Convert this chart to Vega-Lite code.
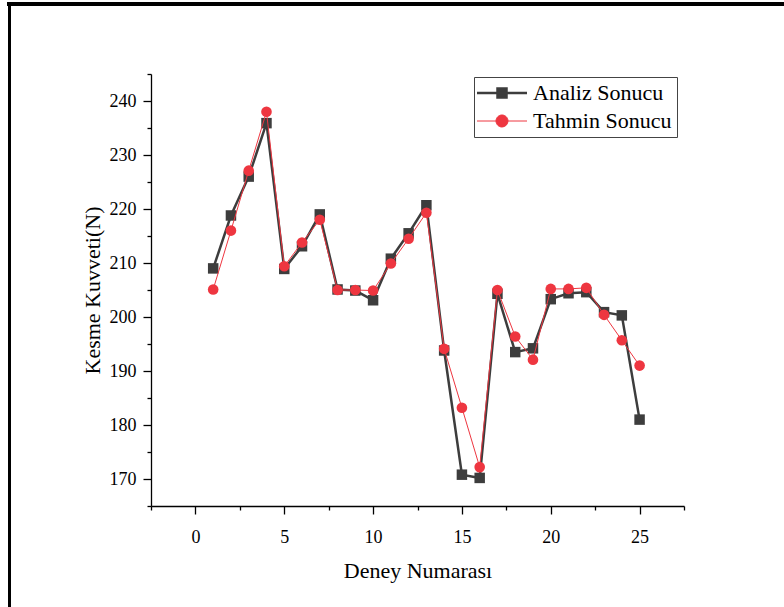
{
  "$schema": "https://vega.github.io/schema/vega-lite/v6.json",
  "autosize": "none",
  "width": 533,
  "height": 432,
  "padding": {"left": 151, "top": 74, "right": 100, "bottom": 101},
  "background": "white",
  "config": {
    "view": {"stroke": null},
    "axis": {
      "grid": false,
      "domainColor": "black",
      "domainWidth": 1.3,
      "tickColor": "black",
      "tickWidth": 1.3,
      "labelFont": "Liberation Serif",
      "labelFontSize": 18,
      "labelColor": "black",
      "titleFont": "Liberation Serif",
      "titleFontSize": 22,
      "titleFontWeight": "normal",
      "titleColor": "black"
    },
    "legend": {
      "labelFont": "Liberation Serif",
      "labelFontSize": 22,
      "labelColor": "black"
    }
  },
  "data": {
    "values": [
      {"x": 1, "s": "Analiz Sonucu", "v": 209.0},
      {"x": 2, "s": "Analiz Sonucu", "v": 218.8},
      {"x": 3, "s": "Analiz Sonucu", "v": 226.0},
      {"x": 4, "s": "Analiz Sonucu", "v": 235.9},
      {"x": 5, "s": "Analiz Sonucu", "v": 208.9},
      {"x": 6, "s": "Analiz Sonucu", "v": 213.1},
      {"x": 7, "s": "Analiz Sonucu", "v": 219.0},
      {"x": 8, "s": "Analiz Sonucu", "v": 205.1},
      {"x": 9, "s": "Analiz Sonucu", "v": 204.9},
      {"x": 10, "s": "Analiz Sonucu", "v": 203.1},
      {"x": 11, "s": "Analiz Sonucu", "v": 210.8},
      {"x": 12, "s": "Analiz Sonucu", "v": 215.5},
      {"x": 13, "s": "Analiz Sonucu", "v": 220.7},
      {"x": 14, "s": "Analiz Sonucu", "v": 193.8},
      {"x": 15, "s": "Analiz Sonucu", "v": 170.8},
      {"x": 16, "s": "Analiz Sonucu", "v": 170.2},
      {"x": 17, "s": "Analiz Sonucu", "v": 204.3},
      {"x": 18, "s": "Analiz Sonucu", "v": 193.5},
      {"x": 19, "s": "Analiz Sonucu", "v": 194.2},
      {"x": 20, "s": "Analiz Sonucu", "v": 203.3},
      {"x": 21, "s": "Analiz Sonucu", "v": 204.4},
      {"x": 22, "s": "Analiz Sonucu", "v": 204.6},
      {"x": 23, "s": "Analiz Sonucu", "v": 200.9},
      {"x": 24, "s": "Analiz Sonucu", "v": 200.3},
      {"x": 25, "s": "Analiz Sonucu", "v": 181.0},
      {"x": 1, "s": "Tahmin Sonucu", "v": 205.1},
      {"x": 2, "s": "Tahmin Sonucu", "v": 216.0},
      {"x": 3, "s": "Tahmin Sonucu", "v": 227.1},
      {"x": 4, "s": "Tahmin Sonucu", "v": 238.0},
      {"x": 5, "s": "Tahmin Sonucu", "v": 209.4},
      {"x": 6, "s": "Tahmin Sonucu", "v": 213.8},
      {"x": 7, "s": "Tahmin Sonucu", "v": 218.0},
      {"x": 8, "s": "Tahmin Sonucu", "v": 205.0},
      {"x": 9, "s": "Tahmin Sonucu", "v": 205.0},
      {"x": 10, "s": "Tahmin Sonucu", "v": 204.9},
      {"x": 11, "s": "Tahmin Sonucu", "v": 209.9},
      {"x": 12, "s": "Tahmin Sonucu", "v": 214.5},
      {"x": 13, "s": "Tahmin Sonucu", "v": 219.3},
      {"x": 14, "s": "Tahmin Sonucu", "v": 194.1},
      {"x": 15, "s": "Tahmin Sonucu", "v": 183.2},
      {"x": 16, "s": "Tahmin Sonucu", "v": 172.2},
      {"x": 17, "s": "Tahmin Sonucu", "v": 205.0},
      {"x": 18, "s": "Tahmin Sonucu", "v": 196.4},
      {"x": 19, "s": "Tahmin Sonucu", "v": 192.1},
      {"x": 20, "s": "Tahmin Sonucu", "v": 205.2},
      {"x": 21, "s": "Tahmin Sonucu", "v": 205.2},
      {"x": 22, "s": "Tahmin Sonucu", "v": 205.4},
      {"x": 23, "s": "Tahmin Sonucu", "v": 200.4},
      {"x": 24, "s": "Tahmin Sonucu", "v": 195.7},
      {"x": 25, "s": "Tahmin Sonucu", "v": 191.0}
    ]
  },
  "encoding": {
    "x": {
      "field": "x", "type": "quantitative",
      "scale": {"domain": [-2.5, 27.5], "nice": false, "zero": false},
      "axis": {
        "title": "Deney Numarası",
        "values": [-2.5, 0, 2.5, 5, 7.5, 10, 12.5, 15, 17.5, 20, 22.5, 25, 27.5],
        "labelExpr": "datum.value % 5 === 0 ? datum.label : ''",
        "tickSize": {"condition": {"test": "datum.value % 5 === 0", "value": 8}, "value": 4},
        "labelPadding": 14,
        "titlePadding": 14
      }
    },
    "y": {
      "field": "v", "type": "quantitative",
      "scale": {"domain": [165, 245], "nice": false, "zero": false},
      "axis": {
        "title": "Kesme Kuvveti(N)",
        "values": [165, 170, 175, 180, 185, 190, 195, 200, 205, 210, 215, 220, 225, 230, 235, 240, 245],
        "labelExpr": "datum.value % 10 === 0 ? datum.label : ''",
        "tickSize": {"condition": {"test": "datum.value % 10 === 0", "value": 8}, "value": 4},
        "labelPadding": 7,
        "titlePadding": 5
      }
    },
    "color": {
      "field": "s", "type": "nominal",
      "scale": {"domain": ["Analiz Sonucu", "Tahmin Sonucu"], "range": ["#3d3d3d", "#ee3640"]},
      "legend": {
        "title": null,
        "orient": "none",
        "legendX": 323,
        "legendY": 3,
        "padding": 5,
        "rowPadding": 6,
        "symbolSize": 400,
        "symbolOffset": 12,
        "labelOffset": 20,
        "strokeColor": "#444444",
        "fillColor": "white",
        "encode": {
          "symbols": {
            "update": {
              "shape": {"signal": "datum.value === 'Analiz Sonucu' ? 'M-2.5,0H2.5M-0.45,-0.45H0.45V0.45H-0.45Z' : 'M-2.5,0H2.5M0.6,0A0.6,0.6 0 1 1 -0.6,0A0.6,0.6 0 1 1 0.6,0Z'"},
              "fill": {"signal": "datum.value === 'Analiz Sonucu' ? '#3d3d3d' : '#ee3640'"},
              "stroke": {"signal": "datum.value === 'Analiz Sonucu' ? '#3d3d3d' : '#ee3640'"},
              "strokeWidth": {"signal": "datum.value === 'Analiz Sonucu' ? 2.5 : 1"},
              "opacity": {"value": 1}
            }
          }
        }
      }
    }
  },
  "layer": [
    {
      "transform": [{"filter": "datum.s === 'Analiz Sonucu'"}],
      "mark": {"type": "line", "strokeWidth": 2.5}
    },
    {
      "transform": [{"filter": "datum.s === 'Analiz Sonucu'"}],
      "mark": {"type": "point", "shape": "square", "filled": true, "size": 110, "opacity": 1}
    },
    {
      "transform": [{"filter": "datum.s === 'Tahmin Sonucu'"}],
      "mark": {"type": "line", "strokeWidth": 1}
    },
    {
      "transform": [{"filter": "datum.s === 'Tahmin Sonucu'"}],
      "mark": {"type": "point", "shape": "circle", "filled": true, "size": 113, "opacity": 1}
    },
    {
      "mark": {"type": "rule", "color": "black", "strokeWidth": 2.5},
      "encoding": {
        "x": {"datum": -10.46},
        "y": {"datum": 258},
        "y2": {"datum": 140},
        "color": null
      }
    },
    {
      "mark": {"type": "rule", "color": "black", "strokeWidth": 2.5},
      "encoding": {
        "x": {"datum": -10.6},
        "x2": {"datum": 40},
        "y": {"datum": 257.96},
        "color": null
      }
    }
  ]
}
